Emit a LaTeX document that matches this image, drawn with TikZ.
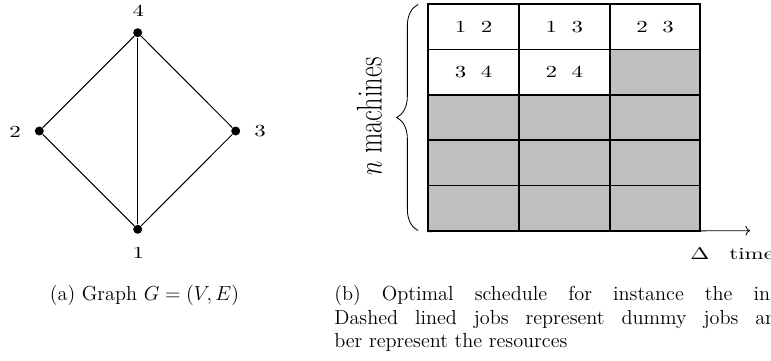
\documentclass[tikz,border=0pt]{standalone}
\usepackage{graphicx}
\usetikzlibrary{decorations.pathreplacing,arrows.meta}
\newcommand{\myhs}[1]{\scalebox{1.355}[1]{#1}}
\newcommand{\capfont}{\fontsize{12}{14.4}\selectfont}
\begin{document}
\begin{tikzpicture}[x=0.5917pt,y=-0.5917pt,
  dot/.style={circle,fill=black,inner sep=0pt,minimum size=5.3pt},
  edge/.style={line width=0.6pt},
  lbl/.style={inner sep=0pt},
  cell/.style={draw,line width=1pt,minimum width=53.65pt,minimum height=26.79pt,inner sep=0pt},
  busy/.style={cell,fill=white},
  idle/.style={cell,fill=lightgray},
  captxt/.style={inner sep=0pt,anchor=base west,font=\capfont}]
\useasboundingbox (0,0) rectangle (771,360);
\clip (0,0) rectangle (771,360);
% graph
\node[dot] (n4) at (137.7,32.7) {};
\node[dot] (n2) at (39.3,131) {};
\node[dot] (n3) at (235.7,131) {};
\node[dot] (n1) at (137.7,229.3) {};
\node[lbl] (l4) at (138.3,11) {\myhs{4}};
\node[lbl] (l2) at (15,131.5) {\myhs{2}};
\node[lbl] (l3) at (260,131.5) {\myhs{3}};
\node[lbl] (l1) at (138.3,253) {\myhs{1}};
\draw[edge] (n4) -- (n2);
\draw[edge] (n4) -- (n3);
\draw[edge] (n4) -- (n1);
\draw[edge] (n2) -- (n1);
\draw[edge] (n3) -- (n1);
% schedule
\node[busy] (c11) at (473.6,26.95) {\myhs{1\hspace{6.35pt}2}};
\node[busy] (c12) at (564.3,26.95) {\myhs{1\hspace{6.35pt}3}};
\node[busy] (c13) at (655.0,26.95) {\myhs{2\hspace{6.35pt}3}};
\node[busy] (c21) at (473.6,72.25) {\myhs{3\hspace{6.35pt}4}};
\node[busy] (c22) at (564.3,72.25) {\myhs{2\hspace{6.35pt}4}};
\node[idle] (c23) at (655.0,72.25) {};
\node[idle] (c31) at (473.6,117.5) {};
\node[idle] (c32) at (564.3,117.5) {};
\node[idle] (c33) at (655.0,117.5) {};
\node[idle] (c41) at (473.6,162.8) {};
\node[idle] (c42) at (564.3,162.8) {};
\node[idle] (c43) at (655.0,162.8) {};
\node[idle] (c51) at (473.6,208.1) {};
\node[idle] (c52) at (564.3,208.1) {};
\node[idle] (c53) at (655.0,208.1) {};
\coordinate (tend) at (750,230.7);
\draw[line width=0.5pt,->] (c51.south west) -- (tend);
\node[lbl,anchor=base] (delta) at (700,259) {\myhs{$\Delta$}};
\node[lbl,anchor=base] (time) at (751.7,259) {\myhs{time}};
\coordinate (bb) at (418,230.5);
\coordinate (bt) at (418,4.5);
\draw[line width=0.5pt,decorate,decoration={brace,amplitude=12.6pt}] (bb) -- (bt);
\node[lbl,rotate=90] (nm) at (369.3,116.7) {\scalebox{1}[1.355]{\fontsize{15.6}{18}\selectfont $n$ machines}};
% captions
\node[lbl,anchor=base,font=\capfont] (capa) at (144.5,300.7) {(a) Graph $G=(V,E)$};
\node[captxt] (capb1) at (334,300.7) {\spaceskip=12.5pt\relax (b) Optimal schedule for instance the instance};
\node[captxt] (capb2) at (334,324.2) {\spaceskip=10.0pt\relax Dashed lined jobs represent dummy jobs and the num-};
\node[captxt] (capb3) at (334,347.5) {ber represent the resources};
\end{tikzpicture}
\end{document}
